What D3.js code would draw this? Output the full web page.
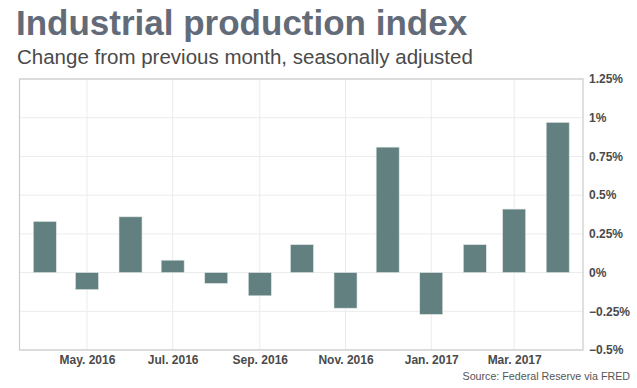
<!DOCTYPE html>
<html>
<head>
<meta charset="utf-8">
<script src="https://cdn.jsdelivr.net/npm/d3@7"></script>
<style>
  body { margin: 0; background: #fff; }
  svg { display: block; font-family: 'Liberation Sans', Arial, sans-serif; }
</style>
</head>
<body>
<div id="chart"></div>
<script>
// monthly change, percent
const months = ['2016-04', '2016-05', '2016-06', '2016-07', '2016-08', '2016-09', '2016-10',
    '2016-11', '2016-12', '2017-01', '2017-02', '2017-03', '2017-04']
const values = [0.33, -0.11, 0.36, 0.08, -0.07, -0.15, 0.18, -0.23, 0.81, -0.27, 0.18, 0.41, 0.97]
const yTicks = [-0.5, -0.25, 0, 0.25, 0.5, 0.75, 1, 1.25]
const xTickMonths = ['2016-05', '2016-07', '2016-09', '2016-11', '2017-01', '2017-03']

const width = 637
const height = 388
const plot = {left: 19.5, right: 583, top: 79, bottom: 350}

const parse = d3.timeParse('%Y-%m')
const data = months.map((m, i) => ({date: parse(m), value: values[i]}))

const svg = d3.select('#chart').append('svg')
    .attr('width', width)
    .attr('height', height)

const x = d3.scaleTime()
    .domain([new Date(2016, 2, 14), new Date(2017, 3, 19)])
    .range([plot.left, plot.right])

const y = d3.scaleLinear()
    .domain([-0.5, 1.25])
    .range([plot.bottom, plot.top])

// gridlines
svg.append('g')
    .selectAll('line')
    .data(yTicks)
    .enter().append('line')
    .attr('x1', plot.left)
    .attr('x2', plot.right)
    .attr('y1', d => y(d))
    .attr('y2', d => y(d))
    .attr('stroke', '#ebebeb')
    .attr('stroke-width', 1)

svg.append('g')
    .selectAll('line')
    .data(xTickMonths.map(parse))
    .enter().append('line')
    .attr('x1', d => x(d))
    .attr('x2', d => x(d))
    .attr('y1', plot.top)
    .attr('y2', plot.bottom)
    .attr('stroke', '#ebebeb')
    .attr('stroke-width', 1)

// bars
const barWidth = 23
svg.append('g')
    .selectAll('rect')
    .data(data)
    .enter().append('rect')
    .attr('x', d => x(d.date) - barWidth / 2)
    .attr('width', barWidth)
    .attr('y', d => y(Math.max(0, d.value)))
    .attr('height', d => Math.abs(y(d.value) - y(0)))
    .attr('fill', '#62807f')
    .attr('stroke', '#dfe6e5')
    .attr('stroke-width', 0.6)

// frame
svg.append('rect')
    .attr('x', plot.left)
    .attr('y', plot.top)
    .attr('width', plot.right - plot.left)
    .attr('height', plot.bottom - plot.top)
    .attr('fill', 'none')
    .attr('stroke', '#cccccc')
    .attr('stroke-width', 1.2)

// axes
const fmtPct = d => d3.format('~g')(d) + '%'
const yAxis = svg.append('g')
    .attr('transform', `translate(${plot.right + 6},0)`)
    .call(d3.axisRight(y).tickValues(yTicks).tickSize(0).tickPadding(0).tickFormat(fmtPct))
yAxis.select('.domain').remove()
yAxis.selectAll('text')
    .attr('font-family', "'Liberation Sans', Arial, sans-serif")
    .attr('font-size', 12)
    .attr('font-weight', 'bold')
    .attr('fill', '#4a4a4a')

const monthFmt = d3.timeFormat('%b. %Y')
const xAxis = svg.append('g')
    .attr('transform', `translate(0,${plot.bottom})`)
    .call(d3.axisBottom(x).tickValues(xTickMonths.map(parse)).tickSize(0).tickPadding(5).tickFormat(monthFmt))
xAxis.select('.domain').remove()
xAxis.selectAll('text')
    .attr('font-family', "'Liberation Sans', Arial, sans-serif")
    .attr('font-size', 12)
    .attr('font-weight', 'bold')
    .attr('fill', '#4a4a4a')

// titles
svg.append('text')
    .attr('x', 16)
    .attr('y', 35)
    .attr('font-size', 35)
    .attr('font-weight', 'bold')
    .attr('fill', '#636b78')
    .text('Industrial production index')

svg.append('text')
    .attr('x', 17)
    .attr('y', 64)
    .attr('font-size', 20.5)
    .attr('fill', '#4a4a4a')
    .text('Change from previous month, seasonally adjusted')

svg.append('text')
    .attr('x', 630)
    .attr('y', 380)
    .attr('text-anchor', 'end')
    .attr('font-size', 10.7)
    .attr('fill', '#555')
    .text('Source: Federal Reserve via FRED')
</script>
</body>
</html>
